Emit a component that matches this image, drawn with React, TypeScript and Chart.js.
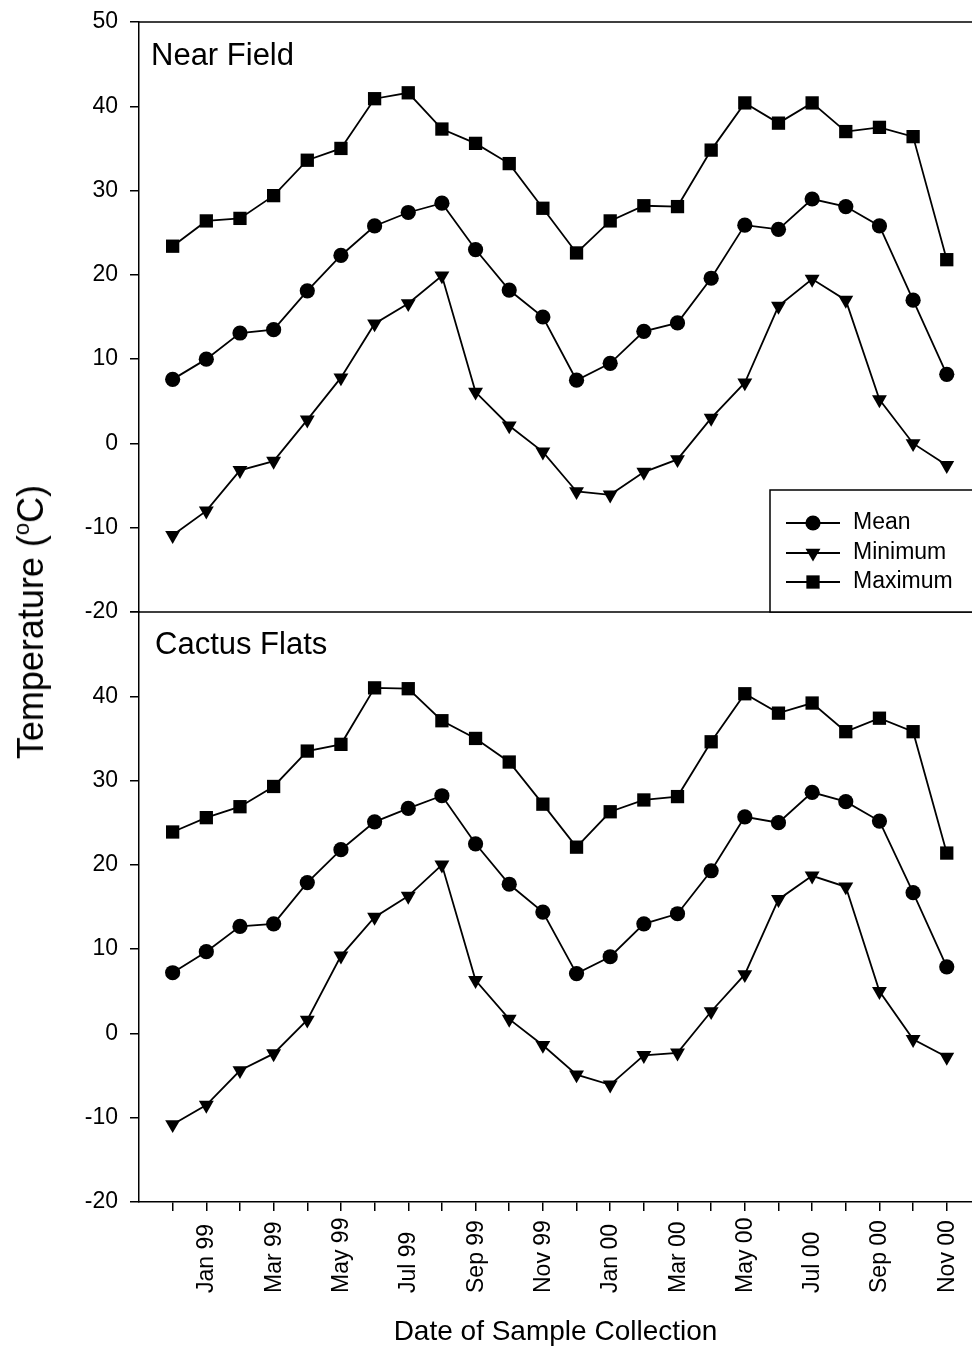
import React, { useEffect, useRef } from 'react';
import { Chart, registerables } from 'chart.js';
import { drawPoint } from 'chart.js/helpers';

Chart.register(...registerables);

const FONT = "'Liberation Sans', Arial, Helvetica, sans-serif";

// Months Dec 98 .. Nov 00 (index 0..23)
const MONTHS = [
  'Dec 98', 'Jan 99', 'Feb 99', 'Mar 99', 'Apr 99', 'May 99', 'Jun 99', 'Jul 99',
  'Aug 99', 'Sep 99', 'Oct 99', 'Nov 99', 'Dec 99', 'Jan 00', 'Feb 00', 'Mar 00',
  'Apr 00', 'May 00', 'Jun 00', 'Jul 00', 'Aug 00', 'Sep 00', 'Oct 00', 'Nov 00',
];
const TICK_LABELS = MONTHS.map((m, i) => (i % 2 === 1 ? m : ''));
const Y_TICKS = [-20, -10, 0, 10, 20, 30, 40, 50];

const SERIES_NAMES = ['Mean', 'Minimum', 'Maximum'];

const nearMean = [7.6, 10.0, 13.1, 13.5, 18.1, 22.3, 25.8, 27.4, 28.5, 23.0, 18.2, 15.0, 7.5, 9.5, 13.3, 14.3, 19.6, 25.9, 25.4, 29.0, 28.1, 25.8, 17.0, 8.2];
const nearMin = [-10.9, -8.0, -3.2, -2.1, 2.8, 7.8, 14.2, 16.6, 19.9, 6.1, 2.1, -1.0, -5.7, -6.1, -3.4, -1.9, 3.0, 7.2, 16.3, 19.5, 17.0, 5.2, 0.0, -2.6];
const nearMax = [23.4, 26.4, 26.7, 29.4, 33.6, 35.0, 40.9, 41.6, 37.3, 35.6, 33.2, 27.9, 22.6, 26.4, 28.2, 28.1, 34.8, 40.4, 38.0, 40.4, 37.0, 37.5, 36.4, 21.8];

const cactusMean = [7.2, 9.7, 12.7, 13.0, 17.9, 21.8, 25.1, 26.7, 28.2, 22.5, 17.7, 14.4, 7.1, 9.1, 13.0, 14.2, 19.3, 25.7, 25.0, 28.6, 27.5, 25.2, 16.7, 7.9];
const cactusMin = [-10.8, -8.5, -4.4, -2.4, 1.6, 9.2, 13.8, 16.3, 20.0, 6.3, 1.7, -1.4, -4.9, -6.1, -2.6, -2.3, 2.6, 7.0, 15.9, 18.7, 17.4, 5.0, -0.7, -2.8];
const cactusMax = [23.9, 25.6, 26.9, 29.3, 33.5, 34.3, 41.0, 40.9, 37.1, 35.0, 32.2, 27.2, 22.1, 26.3, 27.7, 28.1, 34.6, 40.3, 38.0, 39.2, 35.8, 37.4, 35.8, 21.4];

const STYLES = [
  { pointStyle: 'circle', radius: 7.6, rotation: 0 },
  { pointStyle: 'triangle', radius: 8.6, rotation: 180 },
  { pointStyle: 'rect', radius: 9.4, rotation: 0 },
];

const X_MIN = -1;
const X_MAX = 23.75;

function makeDatasets(series: number[][]) {
  return series.map((vals, k) => ({
    label: SERIES_NAMES[k],
    data: vals.map((v, i) => ({ x: i, y: v })),
    borderColor: '#000',
    borderWidth: 1.8,
    backgroundColor: '#000',
    pointBackgroundColor: '#000',
    pointBorderWidth: 0,
    pointStyle: STYLES[k].pointStyle,
    pointRadius: STYLES[k].radius,
    pointRotation: STYLES[k].rotation,
    tension: 0,
    fill: false,
    clip: false,
  }));
}

function yScale(hideTop: boolean) {
  return {
    type: 'linear',
    min: -20,
    max: 50,
    afterBuildTicks: (s: any) => {
      s.ticks = Y_TICKS.map((v) => ({ value: v }));
    },
    ticks: {
      color: '#000',
      font: { family: FONT, size: 23 },
      padding: 12,
      callback: (v: any) => (hideTop && v === 50 ? '' : String(v)),
    },
    grid: { drawOnChartArea: false, drawTicks: true, tickLength: 9, color: '#000', lineWidth: 1.5 },
    border: { display: true, color: '#000', width: 1.5 },
    afterFit: (s: any) => {
      s.width = 139;
      s.paddingTop = 0;
      s.paddingBottom = 0;
    },
  };
}

const panelTitlePlugin = (text: string, dx: number, dy: number) => ({
  id: 'panelTitle',
  afterDraw(chart: any) {
    const { ctx, chartArea } = chart;
    ctx.save();
    ctx.fillStyle = '#000';
    ctx.font = `31px ${FONT}`;
    ctx.textAlign = 'left';
    ctx.textBaseline = 'alphabetic';
    ctx.fillText(text, chartArea.left + dx, chartArea.top + dy);
    ctx.restore();
  },
});

const framePlugin = {
  id: 'frame',
  afterDraw(chart: any) {
    const { ctx, chartArea } = chart;
    ctx.save();
    ctx.strokeStyle = '#000';
    ctx.lineWidth = 1.5;
    ctx.beginPath();
    ctx.moveTo(chartArea.left, chartArea.top);
    ctx.lineTo(chartArea.right, chartArea.top);
    ctx.moveTo(chartArea.left, chartArea.bottom);
    ctx.lineTo(chartArea.right, chartArea.bottom);
    ctx.stroke();
    ctx.restore();
  },
};

const legendPlugin = {
  id: 'boxLegend',
  afterDraw(chart: any) {
    const { ctx, chartArea } = chart;
    const left = chartArea.right - 202;
    const top = chartArea.bottom - 122;
    ctx.save();
    ctx.fillStyle = '#fff';
    ctx.fillRect(left, top, chartArea.right - left + 20, chartArea.bottom - top);
    ctx.strokeStyle = '#000';
    ctx.lineWidth = 1.5;
    ctx.strokeRect(left, top, chartArea.right - left + 20, chartArea.bottom - top);
    const rows = [33, 63, 92];
    chart.data.datasets.forEach((ds: any, k: number) => {
      const y = top + rows[k];
      ctx.strokeStyle = '#000';
      ctx.lineWidth = 1.8;
      ctx.beginPath();
      ctx.moveTo(left + 16, y);
      ctx.lineTo(left + 70, y);
      ctx.stroke();
      ctx.fillStyle = '#000';
      drawPoint(ctx, { pointStyle: STYLES[k].pointStyle, radius: STYLES[k].radius, rotation: STYLES[k].rotation, borderWidth: 0 } as any, left + 43, y);
      ctx.fillStyle = '#000';
      ctx.font = `23px ${FONT}`;
      ctx.textAlign = 'left';
      ctx.textBaseline = 'middle';
      ctx.fillText(ds.label, left + 83, y);
    });
    ctx.restore();
  },
};

const xLabelPlugin = {
  id: 'xLabels',
  afterDraw(chart: any) {
    const { ctx, chartArea } = chart;
    const xs = chart.scales.x;
    ctx.save();
    ctx.fillStyle = '#000';
    ctx.font = `23px ${FONT}`;
    ctx.textAlign = 'left';
    ctx.textBaseline = 'alphabetic';
    TICK_LABELS.forEach((lab, i) => {
      if (!lab) return;
      const px = xs.getPixelForValue(i);
      ctx.save();
      ctx.translate(px + 7, chartArea.bottom + 91);
      ctx.rotate(-Math.PI / 2);
      ctx.fillText(lab, 0, 0);
      ctx.restore();
    });
    ctx.restore();
  },
};

export default function App() {
  const topRef = useRef<HTMLCanvasElement>(null);
  const botRef = useRef<HTMLCanvasElement>(null);

  useEffect(() => {
    const top = new Chart(topRef.current as HTMLCanvasElement, {
      type: 'line',
      data: { datasets: makeDatasets([nearMean, nearMin, nearMax]) as any },
      options: {
        animation: false,
        responsive: false,
        devicePixelRatio: 1,
        layout: { autoPadding: false, padding: { top: 22, bottom: 18, left: 0, right: 0 } },
        plugins: { legend: { display: false }, tooltip: { enabled: false } },
        scales: {
          x: { type: 'linear', min: X_MIN, max: X_MAX, display: false },
          y: yScale(false) as any,
        },
      },
      plugins: [framePlugin, legendPlugin, panelTitlePlugin('Near Field', 12, 43)],
    });

    const bot = new Chart(botRef.current as HTMLCanvasElement, {
      type: 'line',
      data: { datasets: makeDatasets([cactusMean, cactusMin, cactusMax]) as any },
      options: {
        animation: false,
        responsive: false,
        devicePixelRatio: 1,
        layout: { autoPadding: false, padding: { top: 22, bottom: 0, left: 0, right: 0 } },
        plugins: { legend: { display: false }, tooltip: { enabled: false } },
        scales: {
          x: {
            type: 'linear',
            min: X_MIN,
            max: X_MAX,
            afterBuildTicks: (s: any) => {
              s.ticks = MONTHS.map((_, i) => ({ value: i }));
            },
            ticks: { display: false },
            grid: { drawOnChartArea: false, drawTicks: true, tickLength: 9, color: '#000', lineWidth: 1.5 },
            border: { display: true, color: '#000', width: 1.5 },
            title: {
              display: true,
              text: 'Date of Sample Collection',
              color: '#000',
              font: { family: FONT, size: 28 },
              padding: { top: 0, bottom: 0 },
            },
            afterFit: (s: any) => {
              s.height = 147;
              s.paddingLeft = 0;
              s.paddingRight = 0;
            },
          } as any,
          y: yScale(true) as any,
        },
      },
      plugins: [xLabelPlugin, panelTitlePlugin('Cactus Flats', 16, 42)],
    });

    return () => {
      top.destroy();
      bot.destroy();
    };
  }, []);

  return (
    <div style={{ position: 'absolute', left: 0, top: 0, width: 972, height: 1349, overflow: 'hidden', background: '#fff' }}>
      <canvas ref={topRef} width={972} height={630} style={{ position: 'absolute', left: 0, top: 0 }} />
      <canvas ref={botRef} width={972} height={759} style={{ position: 'absolute', left: 0, top: 590 }} />
      <div
        style={{
          position: 'absolute',
          left: 31,
          top: 622,
          transform: 'translate(-50%, -50%) rotate(-90deg)',
          whiteSpace: 'nowrap',
          fontFamily: FONT,
          fontSize: 36,
          lineHeight: '40px',
          color: '#000',
        }}
      >
        Temperature (<sup style={{ fontSize: 22, verticalAlign: 'top', lineHeight: '22px' }}>o</sup>C)
      </div>
    </div>
  );
}
